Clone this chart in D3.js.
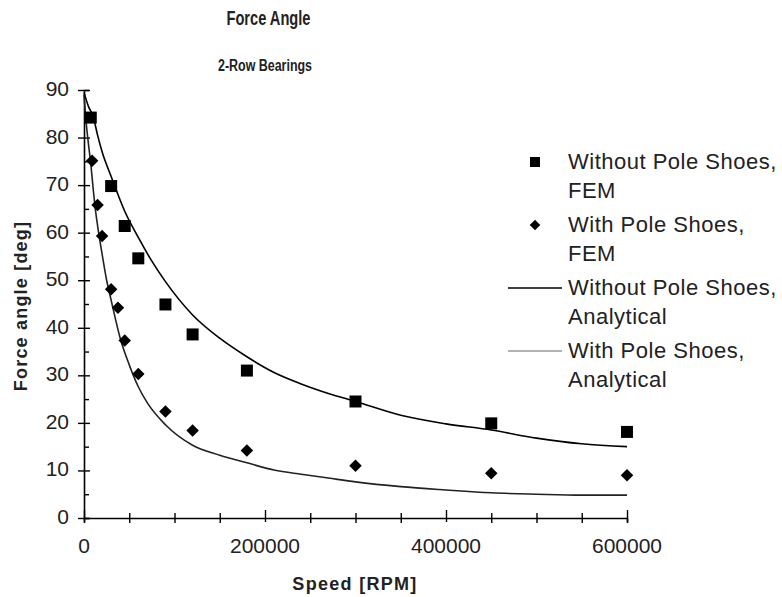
<!DOCTYPE html>
<html>
<head>
<meta charset="utf-8">
<title>Force Angle</title>
<script src="https://d3js.org/d3.v7.min.js"></script>
<style>
  body { margin: 0; background: #fff; }
  text { font-family: "Liberation Sans", Arial, sans-serif; fill: #222; }
</style>
</head>
<body>
<div id="chart"></div>
<script>

// data
var femSpeedNoShoes = [7500, 30000, 45000, 60000, 90000, 120000, 180000, 300000, 450000, 600000];
var femAngleNoShoes = [84.2, 69.8, 61.4, 54.6, 44.9, 38.6, 31.0, 24.5, 19.9, 18.1];

var femSpeedShoes = [9000, 15000, 20000, 30000, 37500, 45000, 60000, 90000, 120000, 180000, 300000, 450000, 600000];
var femAngleShoes = [75.1, 65.8, 59.3, 48.1, 44.2, 37.3, 30.3, 22.4, 18.4, 14.2, 11.0, 9.4, 9.0];

var anaSpeedNoShoes = [0, 5000, 10000, 15000, 20000, 30000, 45000, 60000, 75000, 90000, 120000, 150000, 180000, 210000, 240000, 270000, 300000, 350000, 400000, 450000, 500000, 550000, 600000];
var anaAngleNoShoes = [89.5, 86.5, 84.5, 80.5, 77, 71.8, 64.5, 59, 54, 49.7, 42.7, 37.8, 33.9, 30.6, 28.2, 26.2, 24.5, 21.6, 19.8, 18.5, 16.8, 15.6, 15.0];

var anaSpeedShoes = [0, 2500, 5000, 7500, 10000, 12500, 15000, 20000, 25000, 30000, 40000, 50000, 60000, 70000, 90000, 120000, 150000, 180000, 210000, 240000, 270000, 300000, 350000, 400000, 450000, 500000, 550000, 600000];
var anaAngleShoes = [89, 83, 78.5, 74.5, 69.5, 65, 61.5, 55.5, 50, 45.8, 37.8, 32.2, 27.6, 24.2, 19.6, 15.3, 13.2, 11.6, 10.1, 9.2, 8.4, 7.6, 6.6, 5.9, 5.3, 5.0, 4.8, 4.8];

var xTicks = [0, 200000, 400000, 600000];
var yTicks = [0, 10, 20, 30, 40, 50, 60, 70, 80, 90];

var legendLabels = [
  ["Without Pole Shoes,", "FEM"],
  ["With Pole Shoes,", "FEM"],
  ["Without Pole Shoes,", "Analytical"],
  ["With Pole Shoes,", "Analytical"]
];

var width = 782, height = 597;

var svg = d3.select("#chart").append("svg")
  .attr("width", width)
  .attr("height", height);

var x = d3.scaleLinear().domain([0, 600000]).range([84, 627]);
var y = d3.scaleLinear().domain([0, 90]).range([518, 90]);

function zip(a, b) { return a.map(function(v, i) { return [v, b[i]]; }); }

// titles (narrow look: squeeze to the measured width)
svg.append("text")
  .attr("x", 268.5).attr("y", 25)
  .attr("text-anchor", "middle")
  .style("font-size", "21px").style("font-weight", "bold")
  .attr("textLength", 84).attr("lengthAdjust", "spacingAndGlyphs")
  .text("Force Angle");

svg.append("text")
  .attr("x", 265).attr("y", 71)
  .attr("text-anchor", "middle")
  .style("font-size", "16px").style("font-weight", "bold")
  .attr("textLength", 94).attr("lengthAdjust", "spacingAndGlyphs")
  .text("2-Row Bearings");

// axes
var xAxis = svg.append("g").attr("transform", "translate(0," + y(0) + ")");
xAxis.call(d3.axisBottom(x).tickValues(d3.range(0, 600001, 50000)).tickSize(5).tickFormat(""));
xAxis.selectAll(".tick line").attr("y1", -5);
xAxis.call(function(g) {
  g.selectAll(".tick").filter(function(d) { return xTicks.indexOf(d) >= 0; })
    .select("line").attr("y1", -8).attr("y2", 4);
});

var yAxis = svg.append("g").attr("transform", "translate(" + x(0) + ",0)");
yAxis.call(d3.axisLeft(y).tickValues(d3.range(0, 91, 5)).tickSize(-5).tickFormat(""));
yAxis.call(function(g) {
  g.selectAll(".tick").filter(function(d) { return d % 10 === 0; })
    .select("line").attr("x1", 6).attr("x2", -6);
});

svg.selectAll(".domain").attr("stroke", "#000").attr("stroke-width", 1.6);
svg.selectAll(".tick line").attr("stroke", "#000").attr("stroke-width", 1.4);

svg.append("g").selectAll("text")
  .data(xTicks).enter().append("text")
  .attr("x", function(d) { return x(d); })
  .attr("y", 553)
  .attr("text-anchor", "middle")
  .style("font-size", "21px")
  .text(function(d) { return d; });

svg.append("g").selectAll("text")
  .data(yTicks).enter().append("text")
  .attr("x", 69)
  .attr("y", function(d) { return y(d) + 6; })
  .attr("text-anchor", "end")
  .style("font-size", "21px")
  .text(function(d) { return d; });

svg.append("text")
  .attr("x", 355).attr("y", 590)
  .attr("text-anchor", "middle")
  .style("font-size", "18px").style("font-weight", "bold")
  .style("letter-spacing", "1.3px")
  .text("Speed [RPM]");

svg.append("text")
  .attr("transform", "translate(27,306) rotate(-90)")
  .attr("text-anchor", "middle")
  .style("font-size", "18px").style("font-weight", "bold")
  .style("letter-spacing", "1.2px")
  .text("Force angle [deg]");

// analytical curves
var line = d3.line()
  .x(function(d) { return x(d[0]); })
  .y(function(d) { return y(d[1]); })
  .curve(d3.curveMonotoneX);

svg.append("path")
  .datum(zip(anaSpeedShoes, anaAngleShoes))
  .attr("d", line)
  .attr("fill", "none").attr("stroke", "#222").attr("stroke-width", 1.6);

svg.append("path")
  .datum(zip(anaSpeedNoShoes, anaAngleNoShoes))
  .attr("d", line)
  .attr("fill", "none").attr("stroke", "#000").attr("stroke-width", 1.6);

// FEM points
var sq = d3.symbol().type(d3.symbolSquare).size(144);
var dia = d3.symbol().type(d3.symbolSquare).size(78);

svg.append("g").selectAll("path")
  .data(zip(femSpeedShoes, femAngleShoes)).enter().append("path")
  .attr("d", dia)
  .attr("transform", function(d) { return "translate(" + x(d[0]) + "," + y(d[1]) + ") rotate(45)"; })
  .attr("fill", "#000");

svg.append("g").selectAll("path")
  .data(zip(femSpeedNoShoes, femAngleNoShoes)).enter().append("path")
  .attr("d", sq)
  .attr("transform", function(d) { return "translate(" + x(d[0]) + "," + y(d[1]) + ")"; })
  .attr("fill", "#000");

// legend
var legend = svg.append("g");
var entry = legend.selectAll("g")
  .data(legendLabels).enter().append("g")
  .attr("transform", function(d, i) { return "translate(0," + (169 + i * 63) + ")"; });

entry.each(function(d, i) {
  var g = d3.select(this);
  if (i === 0) {
    g.append("path").attr("d", d3.symbol().type(d3.symbolSquare).size(100))
      .attr("transform", "translate(535,-7)").attr("fill", "#000");
  } else if (i === 1) {
    g.append("path").attr("d", d3.symbol().type(d3.symbolSquare).size(56))
      .attr("transform", "translate(535,-7) rotate(45)").attr("fill", "#000");
  } else {
    g.append("line").attr("x1", 508).attr("x2", 562).attr("y1", -7).attr("y2", -7)
      .attr("stroke", i === 2 ? "#000" : "#999").attr("stroke-width", 1.6);
  }
  g.append("text")
    .attr("x", 568)
    .style("font-size", "22px").style("letter-spacing", "0.5px")
    .selectAll("tspan").data(d).enter().append("tspan")
    .attr("x", 568)
    .attr("dy", function(t, j) { return j === 0 ? 0 : 29; })
    .text(function(t) { return t; });
});

</script>
</body>
</html>
